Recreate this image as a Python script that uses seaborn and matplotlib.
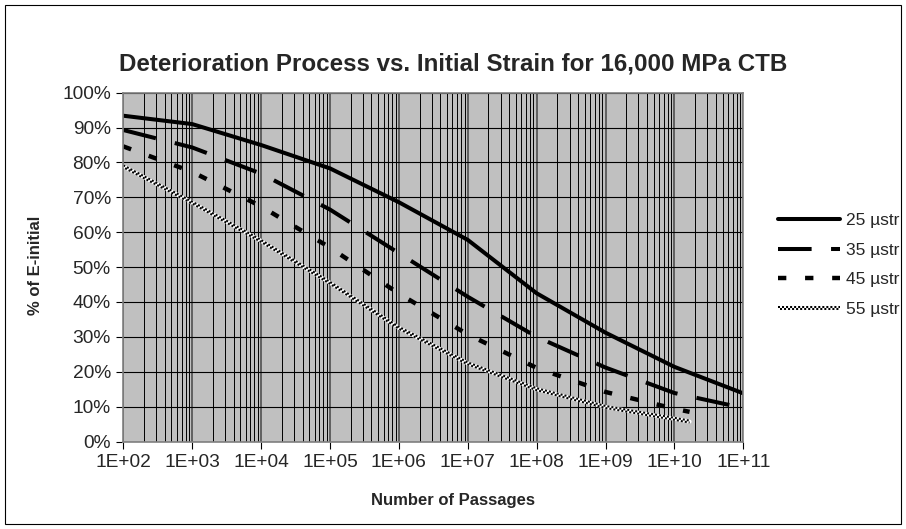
import matplotlib
matplotlib.use("Agg")
import matplotlib.pyplot as plt
import seaborn as sns
from matplotlib.lines import Line2D
from matplotlib.patches import Rectangle
from matplotlib.ticker import LogLocator, FixedLocator, NullFormatter
from matplotlib.legend_handler import HandlerBase
from matplotlib.transforms import offset_copy

# ---- data ----
passages = [1e2, 1e3, 1e4, 1e5, 1e6, 1e7, 1e8, 1e9, 1e10, 1e11]
passages_short = [1e2, 1e3, 1e4, 1e5, 1e6, 1e7, 1e8, 1e9, 1e10, 1.66e10]
e_25 = [93.4, 91.0, 85.0, 78.3, 68.6, 57.8, 42.5, 31.2, 21.4, 13.8]
e_35 = [89.3, 84.3, 76.8, 66.5, 54.0, 41.5, 30.0, 21.2, 13.9, 9.6]
e_45 = [84.6, 77.3, 67.4, 55.6, 42.4, 30.7, 21.1, 14.2, 9.4, 8.5]
e_55 = [78.9, 68.5, 57.5, 45.5, 32.6, 22.4, 15.0, 9.9, 6.5, 5.7]
series_labels = ["25 µstr", "35 µstr", "45 µstr", "55 µstr"]
x_ticks = [1e2, 1e3, 1e4, 1e5, 1e6, 1e7, 1e8, 1e9, 1e10, 1e11]
x_tick_labels = ["1E+02", "1E+03", "1E+04", "1E+05", "1E+06", "1E+07",
                 "1E+08", "1E+09", "1E+10", "1E+11"]
y_ticks = [0, 10, 20, 30, 40, 50, 60, 70, 80, 90, 100]
y_tick_labels = [f"{v}%" for v in y_ticks]
title = "Deterioration Process vs. Initial Strain for 16,000 MPa CTB"
x_label = "Number of Passages"
y_label = "% of E-initial"

sns.set_style("ticks")
plt.rcParams["font.family"] = ["Liberation Sans", "DejaVu Sans"]
plt.rcParams["lines.scale_dashes"] = False

W, H = 906, 529
fig = plt.figure(figsize=(W / 100, H / 100), dpi=100)
fig.patch.set_facecolor("white")

L, R, T, B = 123.3, 743.3, 92.7, 441.5
ax = fig.add_axes([L / W, 1 - B / H, (R - L) / W, (B - T) / H])
ax.set_facecolor("#C0C0C0")

lw = 2.9
half = lw / 2
sq = 1.45
dash35 = (0, (24.2, 14.0))
dash45 = (0, (6.0, 13.5))

def styled(ls):
    ln = ax.lines[-1]
    ln.set_linestyle(ls)
    ln.set_dash_capstyle("butt")
    return ln

sns.lineplot(x=passages, y=e_25, ax=ax, color="black", lw=lw, sort=False,
             estimator=None, legend=False)
sns.lineplot(x=passages, y=e_35, ax=ax, color="black", lw=lw, sort=False,
             estimator=None, legend=False)
styled(dash35)
sns.lineplot(x=passages_short, y=e_45, ax=ax, color="black", lw=3.2, sort=False,
             estimator=None, legend=False)
styled(dash45)
# checkered 55 line: white base + two offset rows of black squares
sns.lineplot(x=passages_short, y=e_55, ax=ax, color="white", lw=lw, sort=False,
             estimator=None, legend=False)
sns.lineplot(x=passages_short, y=e_55, ax=ax, color="black", lw=half, sort=False,
             estimator=None, legend=False)
styled((0, (sq, sq))).set_transform(offset_copy(ax.transData, fig, x=0, y=half / 2, units="points"))
sns.lineplot(x=passages_short, y=e_55, ax=ax, color="black", lw=half, sort=False,
             estimator=None, legend=False)
styled((sq, (sq, sq))).set_transform(offset_copy(ax.transData, fig, x=0, y=-half / 2, units="points"))

ax.set_xscale("log")
ax.set_xlim(1e2, 1e11)
ax.set_ylim(0, 100)
ax.xaxis.set_major_locator(FixedLocator(x_ticks))
ax.set_xticks(x_ticks)
ax.set_xticklabels(x_tick_labels)
ax.xaxis.set_minor_locator(LogLocator(base=10, subs=[2, 3, 4, 5, 6, 7, 8, 9], numticks=100))
ax.xaxis.set_minor_formatter(NullFormatter())
ax.set_yticks(y_ticks)
ax.set_yticklabels(y_tick_labels)

ax.grid(True, which="major", axis="y", color="black", lw=0.8)
ax.grid(True, which="major", axis="x", color="#505050", lw=1.2)
ax.grid(True, which="minor", axis="x", color="black", lw=0.7)
ax.set_axisbelow(True)
for s in ax.spines.values():
    s.set_color("#808080")
    s.set_linewidth(1.2)

ax.tick_params(axis="both", which="major", direction="out", length=5,
               width=0.8, color="black", labelsize=13.8, pad=4)
ax.tick_params(axis="x", which="minor", length=0)
ax.set_xlabel("")
ax.set_ylabel("")

fig.text(0.5, 1 - 64 / H, title, ha="center", va="center",
         fontsize=17.4, fontweight="bold")
fig.text(0.5, 1 - 500 / H, x_label, ha="center", va="center",
         fontsize=12, fontweight="bold")
fig.text(35 / W, 1 - 265 / H, y_label, ha="center", va="center",
         rotation=90, fontsize=12, fontweight="bold")


class CheckerHandler(HandlerBase):
    def create_artists(self, legend, orig_handle, xdescent, ydescent,
                       width, height, fontsize, trans):
        y = height / 2 - ydescent
        x0, x1 = -xdescent, width - xdescent
        base = Line2D([x0, x1], [y, y], color="white", lw=lw, transform=trans)
        top = Line2D([x0, x1], [y + half / 2] * 2, color="black", lw=half,
                     linestyle=(0, (sq, sq)), dash_capstyle="butt", transform=trans)
        bot = Line2D([x0, x1], [y - half / 2] * 2, color="black", lw=half,
                     linestyle=(sq, (sq, sq)), dash_capstyle="butt", transform=trans)
        return [base, top, bot]


h25 = Line2D([], [], color="black", lw=lw)
h35 = Line2D([], [], color="black", lw=lw, linestyle=dash35, dash_capstyle="butt")
h45 = Line2D([], [], color="black", lw=3.2, linestyle=dash45, dash_capstyle="butt")
h55 = Rectangle((0, 0), 1, 1)
fig.legend([h25, h35, h45, h55], series_labels,
           handler_map={Rectangle: CheckerHandler()},
           loc="center left", bbox_to_anchor=(778 / W, 1 - 265 / H),
           frameon=False, fontsize=12.5, handlelength=3.55, handletextpad=0.38,
           labelspacing=0.82, borderpad=0, borderaxespad=0)

fig.patches.append(Rectangle((5 / W, 5 / H), (W - 10) / W, (H - 10) / H,
                             transform=fig.transFigure, fill=False,
                             edgecolor="black", lw=0.8))

fig.savefig("out.png", dpi=100)
